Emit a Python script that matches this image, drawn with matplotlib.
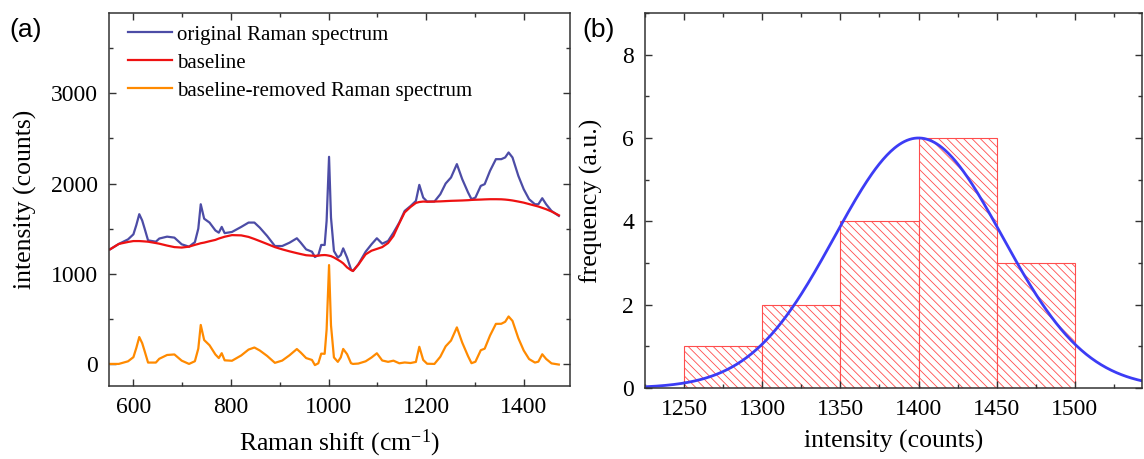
import matplotlib
matplotlib.use('Agg')
import matplotlib.pyplot as plt
import numpy as np
from matplotlib.ticker import MultipleLocator

# ----- Data -----
raman_shift = [552, 570, 589, 600, 606, 612, 618, 623, 630, 646, 653, 669, 684, 699,
               714, 726, 733, 738, 745, 756, 768, 775, 781, 787, 802, 821, 836, 848,
               859, 874, 890, 905, 920, 935, 943, 954, 966, 972, 979, 985, 992, 996,
               1001, 1005, 1011, 1019, 1025, 1030, 1038, 1046, 1050, 1061, 1076, 1088,
               1099, 1110, 1122, 1133, 1145, 1156, 1168, 1179, 1186, 1194, 1202, 1217,
               1229, 1240, 1251, 1263, 1274, 1286, 1293, 1301, 1312, 1320, 1331, 1343,
               1354, 1362, 1369, 1377, 1389, 1400, 1411, 1423, 1430, 1438, 1446, 1457, 1472]
raw_counts = [1270, 1330, 1381, 1437, 1540, 1660, 1590, 1500, 1370, 1355, 1390, 1411, 1400, 1326,
              1300, 1350, 1500, 1770, 1610, 1567, 1480, 1455, 1519, 1450, 1463, 1519, 1567, 1567,
              1511, 1419, 1307, 1307, 1344, 1393, 1344, 1270, 1244, 1185, 1207, 1319, 1319, 1585,
              2296, 1622, 1252, 1178, 1207, 1281, 1178, 1048, 1030, 1104, 1244, 1326,
              1393, 1333, 1363, 1455, 1567, 1696, 1750, 1807, 1985, 1844, 1800, 1800,
              1881, 2000, 2067, 2215, 2048, 1900, 1826, 1844, 1974, 1993, 2141, 2270,
              2270, 2289, 2344, 2289, 2085, 1937, 1826, 1770, 1770, 1837, 1770, 1696, 1641]
baseline = [1270, 1330, 1352, 1362, 1362, 1362, 1360, 1358, 1355, 1340, 1333, 1312, 1295, 1290,
            1300, 1320, 1330, 1338, 1345, 1360, 1375, 1390, 1400, 1410, 1428, 1425, 1408, 1385,
            1362, 1330, 1295, 1270, 1248, 1228, 1218, 1205, 1200, 1198, 1200, 1205, 1207, 1205,
            1200, 1195, 1180, 1155, 1135, 1115, 1070, 1040, 1030, 1100, 1215, 1255,
            1275, 1295, 1340, 1419, 1560, 1680, 1740, 1785, 1795, 1800, 1798, 1800,
            1802, 1805, 1808, 1810, 1812, 1815, 1818, 1820, 1822, 1824, 1826, 1826,
            1825, 1822, 1818, 1812, 1800, 1788, 1772, 1755, 1745, 1730, 1715, 1690, 1648]

bin_edges = [1250, 1300, 1350, 1400, 1450, 1500]
bin_counts = [1, 2, 4, 6, 3]
fit_mean = 1400
fit_sigma = 53.6
fit_amp = 6.0

# ----- Style -----
plt.rcParams['font.family'] = ['Liberation Serif', 'DejaVu Serif']
plt.rcParams['mathtext.fontset'] = 'custom'
plt.rcParams['mathtext.rm'] = 'Liberation Serif'
plt.rcParams['mathtext.it'] = 'Liberation Serif:italic'
plt.rcParams['hatch.linewidth'] = 0.6

fig = plt.figure(figsize=(11.44, 4.59), dpi=100)
ax1 = fig.add_axes([0.0953, 0.159, 0.403, 0.8126])
ax2 = fig.add_axes([0.5638, 0.1547, 0.4345, 0.817])

# ----- (a) Raman spectra -----
x = np.array(raman_shift)
raw = np.array(raw_counts)
base = np.array(baseline)
ax1.plot(x, raw, color='#4c4ca6', lw=1.6, label='original Raman spectrum')
ax1.plot(x, base, color='#ee1111', lw=1.6, label='baseline')
ax1.plot(x, raw - base, color='#ff8a00', lw=1.6, label='baseline-removed Raman spectrum')
ax1.set_xlim(550, 1495)
ax1.set_ylim(-245, 3890)
ax1.xaxis.set_major_locator(MultipleLocator(200))
ax1.xaxis.set_minor_locator(MultipleLocator(100))
ax1.yaxis.set_major_locator(MultipleLocator(1000))
ax1.yaxis.set_minor_locator(MultipleLocator(500))
ax1.set_xlabel('Raman shift (cm$^{\\mathregular{-1}}$)', fontsize=18.5, labelpad=7)
ax1.set_ylabel('intensity (counts)', fontsize=18.5, labelpad=10)
ax1.legend(loc='upper left', bbox_to_anchor=(0.023, 0.99), frameon=False, fontsize=15,
           handlelength=2.1, handletextpad=0.25, labelspacing=0.4, borderaxespad=0)
fig.text(0.008, 0.935, '(a)', fontsize=19, va='center', family=['Liberation Sans'])

# ----- (b) Histogram with Gaussian fit -----
widths = np.diff(bin_edges)
ax2.bar(bin_edges[:-1], bin_counts, width=widths, align='edge', facecolor='white',
        edgecolor='#ff4d4d', linewidth=0.8, hatch='\\\\\\\\')
gx = np.linspace(1225, 1545, 400)
ax2.plot(gx, fit_amp * np.exp(-(gx - fit_mean) ** 2 / (2 * fit_sigma ** 2)),
         color='#3c3cf5', lw=2)
ax2.set_xlim(1225, 1543)
ax2.set_ylim(0, 9)
ax2.xaxis.set_major_locator(MultipleLocator(50))
ax2.xaxis.set_minor_locator(MultipleLocator(25))
ax2.yaxis.set_major_locator(MultipleLocator(2))
ax2.yaxis.set_minor_locator(MultipleLocator(1))
ax2.set_xlabel('intensity (counts)', fontsize=18.5, labelpad=7)
ax2.set_ylabel('frequency (a.u.)', fontsize=18.5, labelpad=14)
fig.text(0.509, 0.935, '(b)', fontsize=19, va='center', family=['Liberation Sans'])

for ax in (ax1, ax2):
    ax.tick_params(which='both', direction='in', top=True, right=True,
                   labelsize=17, width=1, color='#333333')
    ax.tick_params(which='major', length=5, pad=8)
    ax.tick_params(which='minor', length=3)
    for s in ax.spines.values():
        s.set_linewidth(1.1)
        s.set_color('#333333')

fig.savefig('out.png', dpi=100)
